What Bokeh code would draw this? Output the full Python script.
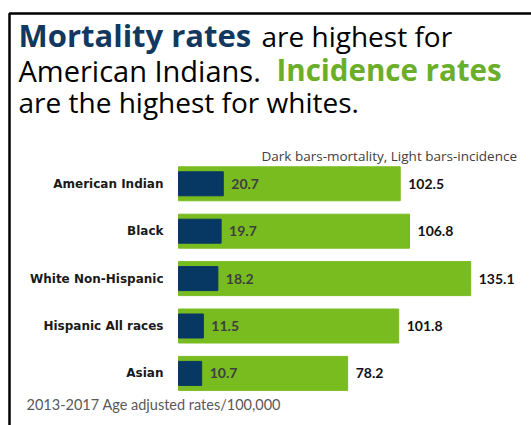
from bokeh.plotting import figure
from bokeh.models import Range1d, Label, ColumnDataSource
from bokeh.core.properties import value
from bokeh.embed import file_html
from bokeh.resources import INLINE

# ---- data ----
categories = ["American Indian", "Black", "White Non-Hispanic", "Hispanic All races", "Asian"]
mortality = [20.7, 19.7, 18.2, 11.5, 10.7]
incidence = [102.5, 106.8, 135.1, 101.8, 78.2]

# ---- layout helpers (pixel -> data) ----
W, H = 531, 425
K = 2.163      # px per rate unit
X0 = 178.0     # pixel of zero
Y0 = 183.3     # pixel centre of first category
DY = 47.4      # pixel spacing of categories

def xd(px):
    return (px - X0) / K

def yd(py):
    return (py - Y0) / DY

p = figure(width=W, height=H, output_backend="svg", toolbar_location=None,
           x_range=Range1d(xd(0), xd(W)), y_range=Range1d(yd(H), yd(0)),
           x_axis_location=None, y_axis_location=None, min_border=0)
p.grid.visible = False
p.outline_line_color = None
p.background_fill_color = "white"
p.border_fill_color = "white"

idx = list(range(len(categories)))
src = ColumnDataSource(dict(
    y=idx, cat=categories, mort=mortality, inc=incidence,
    mort_lbl=[f"{v:.1f}" for v in mortality],
    inc_lbl=[f"{v:.1f}" for v in incidence],
))

GREEN = "#78BC20"
NAVY = "#073763"

p.hbar(y="y", left=0, right="inc", height=34 / DY, source=src,
       fill_color=GREEN, line_color=GREEN)
p.hbar(y="y", left=0, right="mort", height=24 / DY, source=src,
       fill_color=NAVY, line_color=NAVY)

p.text(x="mort", y="y", text="mort_lbl", source=src, x_offset=8,
       text_baseline="middle", text_font=value("Lato"), text_font_style="bold",
       text_font_size="14px", text_color="#3f3f3f")
p.text(x="inc", y="y", text="inc_lbl", source=src, x_offset=8,
       text_baseline="middle", text_font=value("Lato"), text_font_style="bold",
       text_font_size="14px", text_color="#111111")
p.text(x=0, y="y", text="cat", source=src, x_offset=-15, text_align="right",
       text_baseline="middle", text_font=value("DejaVu Sans"), text_font_style="bold",
       text_font_size="12px", text_color="#1a1a1a")

# border lines
p.line(x=[xd(W + 5), xd(9), xd(9)], y=[yd(13), yd(13), yd(H + 5)],
       line_color="black", line_width=2.5)


def lab(px, py, text, size, color="black", style="normal", font="Open Sans"):
    # py is the wanted alphabetic baseline in pixels; compensate renderer offset
    p.add_layout(Label(x=xd(px), y=yd(py - 0.36 * size), text=text, text_color=color,
                       text_font=font, text_font_style=style,
                       text_font_size=f"{size}px", text_baseline="alphabetic"))

lab(18, 46, "Mortality rates", 31, color="#12385f", style="bold")
lab(261, 46, "are highest for", 28)
lab(18, 80, "American Indians.", 29)
lab(276, 80, "Incidence rates", 29.5, color="#6aae2a", style="bold")
lab(18, 112, "are the highest for whites.", 28)

lab(261, 160, "Dark bars-mortality, Light bars-incidence", 13.5, color="#404040")
lab(26, 409, "2013-2017 Age adjusted rates/100,000", 14.5, color="#595959", font="Lato")

open("out.html", "w").write(file_html(p, INLINE))
